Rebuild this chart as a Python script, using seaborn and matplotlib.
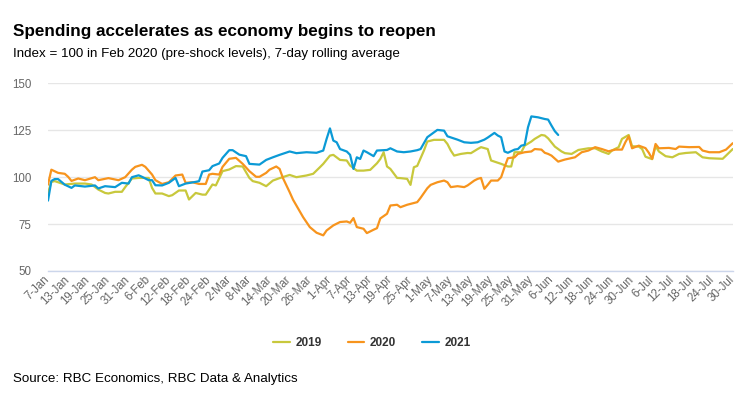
import matplotlib
matplotlib.use("Agg")
import matplotlib.pyplot as plt
import pandas as pd
import seaborn as sns

# day offsets from 7-Jan (index, Feb 2020 = 100)
days_2019 = [0, 1, 2, 5, 8, 11, 13, 15, 17, 18, 20, 22, 23, 25, 27, 30, 31, 32, 34, 36,
             37, 39, 41, 42, 44, 46, 47, 49, 50, 52, 54, 56, 58, 60, 61, 63, 65, 67, 69, 72,
             74, 77, 79, 81, 82, 84, 85, 87, 89, 90, 92, 94, 96, 98, 99, 100, 101, 102, 104, 105,
             107, 108, 109, 110, 111, 112, 113, 115, 118, 119, 120, 121, 123, 125, 126, 128, 129, 131, 132, 133,
             135, 137, 138, 139, 141, 142, 144, 145, 147, 148, 149, 151, 153, 154, 156, 158, 161, 163, 165, 167,
             168, 170, 171, 173, 174, 176, 177, 178, 180, 181, 182, 184, 186, 188, 190, 193, 195, 197, 201, 202, 204]
index_2019 = [91.6, 97.5, 97.9, 96.1, 96.6, 96.6, 96.1, 93.4, 91.6, 91.3, 92.2, 92.2, 94.7, 99.3, 99.6, 99.6, 94.3, 91.3, 91.3, 89.9,
              90.4, 92.9, 92.9, 88.1, 91.6, 90.7, 90.7, 96.1, 95.6, 103.2, 104.1, 105.9, 105.7, 99.6, 97.9, 97.0, 95.2, 98.2, 99.5, 101.2,
              100.0, 100.9, 101.8, 105.3, 107.1, 111.5, 111.9, 109.2, 108.9, 106.2, 103.5, 103.5, 103.9, 107.4, 109.7, 113.3, 105.7, 104.4, 99.6, 99.5,
              99.1, 95.9, 105.3, 106.0, 110.1, 114.2, 119.0, 119.9, 119.9, 117.7, 114.2, 111.5, 112.4, 112.9, 112.8, 115.0, 116.0, 115.0, 108.9, 108.3,
              107.1, 105.7, 105.7, 113.3, 113.3, 116.8, 119.0, 120.4, 122.5, 122.2, 120.7, 116.3, 113.7, 112.8, 112.4, 114.5, 115.4, 115.4, 113.7, 112.4,
              114.2, 116.0, 120.4, 122.5, 116.5, 116.3, 115.0, 110.9, 109.6, 116.5, 113.7, 111.2, 110.6, 112.4, 112.9, 113.3, 110.6, 110.1, 109.8, 111.5, 115.0]

days_2020 = [0, 1, 3, 5, 6, 7, 9, 11, 14, 15, 18, 21, 23, 25, 26, 28, 29, 31, 32, 34,
             36, 38, 40, 41, 43, 45, 47, 48, 49, 51, 52, 54, 56, 58, 60, 62, 63, 65, 66, 68,
             69, 70, 72, 73, 74, 76, 78, 80, 82, 83, 85, 87, 89, 90, 91, 92, 94, 95, 97, 98,
             99, 101, 102, 104, 105, 107, 110, 111, 113, 114, 116, 118, 119, 120, 122, 124, 125, 127, 128, 129,
             130, 131, 132, 134, 135, 136, 137, 139, 140, 142, 144, 145, 147, 148, 149, 150, 152, 154, 157, 159,
             161, 163, 165, 167, 169, 171, 172, 173, 174, 176, 178, 179, 180, 181, 182, 185, 187, 188, 191, 194,
             195, 197, 200, 202, 204]
index_2020 = [96.0, 104.0, 102.3, 101.8, 100.2, 98.0, 99.3, 98.4, 100.0, 98.4, 99.5, 98.4, 100.0, 104.0, 105.5, 106.6, 105.5, 101.4, 98.4, 96.4,
              97.3, 100.9, 101.4, 97.0, 97.3, 96.4, 96.4, 101.4, 101.8, 101.4, 105.5, 109.8, 110.3, 107.1, 103.2, 100.2, 100.2, 102.3, 104.0, 105.7,
              104.4, 99.5, 92.0, 88.0, 84.9, 78.7, 73.4, 70.4, 69.0, 71.6, 74.3, 76.1, 76.4, 75.7, 78.2, 73.4, 72.5, 70.2, 72.0, 72.8,
              78.0, 80.5, 84.9, 85.3, 84.0, 85.3, 86.7, 89.0, 94.1, 95.9, 97.3, 98.2, 97.3, 94.7, 95.2, 94.7, 95.6, 98.2, 99.1, 99.6,
              93.8, 95.9, 98.2, 98.2, 100.0, 105.3, 110.1, 110.6, 112.4, 113.3, 113.7, 115.0, 114.7, 113.0, 112.4, 111.5, 108.3, 109.4, 110.6, 113.3,
              114.2, 116.0, 115.0, 113.8, 114.7, 114.7, 118.6, 121.8, 115.4, 116.8, 115.5, 113.0, 109.8, 117.7, 115.4, 115.6, 115.0, 116.3, 116.0, 116.1,
              114.2, 113.3, 113.3, 114.7, 118.1]

days_2021 = [0, 1, 2, 3, 5, 7, 8, 11, 14, 15, 17, 20, 22, 24, 25, 27, 28, 30, 31, 32,
             34, 36, 38, 39, 41, 44, 45, 46, 48, 49, 51, 52, 54, 55, 57, 59, 60, 63, 65, 67,
             69, 72, 74, 77, 80, 82, 83, 84, 85, 86, 87, 89, 90, 91, 92, 93, 94, 95, 97, 98,
             101, 102, 104, 106, 108, 110, 111, 113, 116, 118, 119, 122, 124, 126, 128, 130, 131, 133, 134, 135,
             136, 137, 139, 140, 141, 142, 143, 144, 146, 148, 149, 150, 151, 152]
index_2021 = [87.5, 98.0, 99.0, 99.0, 96.0, 94.3, 95.6, 95.0, 95.6, 94.0, 95.2, 94.7, 97.0, 96.6, 100.0, 101.0, 100.2, 98.4, 98.4, 95.7,
              95.6, 97.0, 99.6, 95.2, 96.6, 97.5, 97.9, 103.0, 103.7, 105.9, 107.3, 110.3, 114.4, 114.4, 112.0, 111.2, 107.1, 106.7, 109.2, 110.6,
              111.9, 113.7, 112.8, 113.3, 113.0, 114.2, 120.4, 126.0, 119.5, 118.6, 115.0, 113.7, 111.9, 104.4, 110.6, 109.7, 114.2, 113.3, 111.2, 114.2,
              114.5, 115.4, 113.7, 113.3, 113.7, 114.4, 115.0, 121.3, 125.2, 124.8, 121.8, 120.0, 118.6, 118.3, 118.6, 120.0, 121.1, 123.6, 122.2, 121.3,
              113.7, 113.0, 114.7, 115.0, 116.8, 117.2, 126.6, 132.4, 131.9, 131.0, 130.7, 127.5, 124.5, 122.5]

years = ["2019", "2020", "2021"]
colors = {"2019": "#c8c83c", "2020": "#f7941d", "2021": "#0b9ad6"}

tick_labels = ["7-Jan", "13-Jan", "19-Jan", "25-Jan", "31-Jan", "6-Feb", "12-Feb", "18-Feb", "24-Feb",
               "2-Mar", "8-Mar", "14-Mar", "20-Mar", "26-Mar", "1-Apr", "7-Apr", "13-Apr", "19-Apr",
               "25-Apr", "1-May", "7-May", "13-May", "19-May", "25-May", "31-May", "6-Jun", "12-Jun",
               "18-Jun", "24-Jun", "30-Jun", "6-Jul", "12-Jul", "18-Jul", "24-Jul", "30-Jul"]

df = pd.concat([
    pd.DataFrame({"day": days_2019, "index": index_2019, "year": "2019"}),
    pd.DataFrame({"day": days_2020, "index": index_2020, "year": "2020"}),
    pd.DataFrame({"day": days_2021, "index": index_2021, "year": "2021"}),
])

sns.set_theme(style="white")
plt.rcParams["font.family"] = ["Liberation Sans", "DejaVu Sans"]

fig = plt.figure(figsize=(7.5, 3.97), dpi=100)
ax = fig.add_axes([0.064, 0.3174, 0.913, 0.4726])

sns.lineplot(data=df, x="day", y="index", hue="year", hue_order=years,
             palette=colors, linewidth=1.6, ax=ax, legend=False)

ax.set_xlim(0, 204)
ax.set_ylim(50, 150)
ax.set_yticks([50, 75, 100, 125, 150])
ax.set_xticks(range(0, 6 * len(tick_labels), 6))
ax.set_xticklabels(tick_labels, rotation=45, ha="right", va="center", rotation_mode="anchor")
ax.set_xlabel("")
ax.set_ylabel("")

ax.yaxis.grid(True, color="#e6e6e6", linewidth=1)
ax.xaxis.grid(False)
ax.set_axisbelow(True)
for side in ["top", "right", "left"]:
    ax.spines[side].set_visible(False)
ax.spines["bottom"].set_color("#ccd6eb")
ax.spines["bottom"].set_linewidth(1)
ax.tick_params(axis="both", length=0, labelsize=8.3, labelcolor="#666666")
ax.tick_params(axis="y", pad=12)
ax.tick_params(axis="x", pad=5)

fig.legend(ax.lines[:3], years, loc="center", bbox_to_anchor=(372 / 750, 1 - 343 / 397),
           ncol=3, frameon=False, handlelength=1.4, columnspacing=2.2, handletextpad=0.5,
           prop={"weight": "bold", "size": 8.5}, labelcolor="#333333")

fig.text(13 / 750, 1 - 36 / 397, "Spending accelerates as economy begins to reopen",
         fontsize=12.3, fontweight="bold", color="#000000", va="baseline")
fig.text(13 / 750, 1 - 57 / 397, "Index = 100 in Feb 2020 (pre-shock levels), 7-day rolling average",
         fontsize=9.6, color="#000000", va="baseline")
fig.text(13 / 750, 1 - 382 / 397, "Source: RBC Economics, RBC Data & Analytics",
         fontsize=9.6, color="#000000", va="baseline")

fig.savefig("out.png", dpi=100)
